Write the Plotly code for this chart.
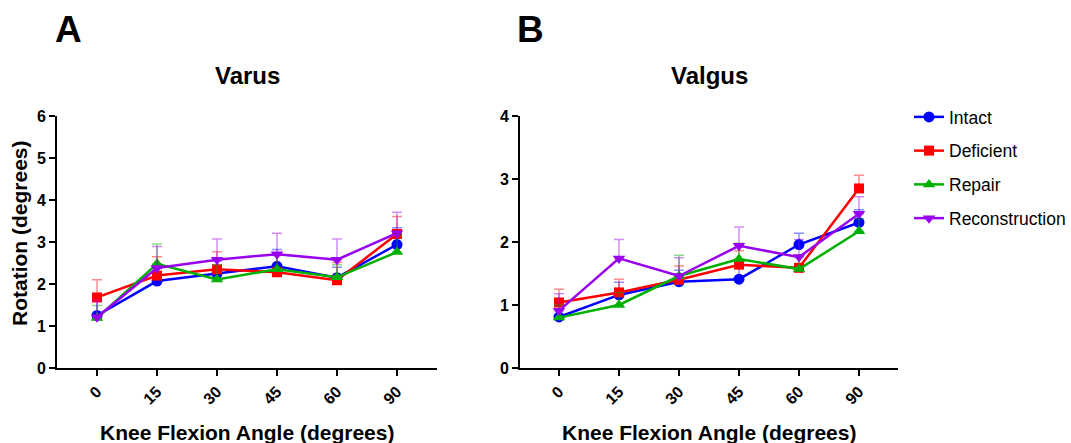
import plotly.graph_objects as go

angles = ["0", "15", "30", "45", "60", "90"]
groups = ["Intact", "Deficient", "Repair", "Reconstruction"]
colors = ["#0000FF", "#FF0000", "#00B000", "#9900EE"]
err_colors = ["rgba(0,0,255,0.45)", "rgba(255,0,0,0.45)", "rgba(0,176,0,0.45)", "rgba(153,0,238,0.45)"]
symbols = ["circle", "square", "triangle-up", "triangle-down"]

varus_intact = [1.25, 2.07, 2.25, 2.42, 2.15, 2.94]
varus_deficient = [1.68, 2.20, 2.35, 2.28, 2.09, 3.19]
varus_repair = [1.19, 2.48, 2.11, 2.35, 2.16, 2.76]
varus_reconstruction = [1.21, 2.38, 2.58, 2.71, 2.58, 3.21]
varus_intact_err = [0.35, 0.30, 0.30, 0.40, 0.25, 0.40]
varus_deficient_err = [0.42, 0.45, 0.42, 0.40, 0.42, 0.42]
varus_repair_err = [0.30, 0.47, 0.35, 0.35, 0.30, 0.40]
varus_reconstruction_err = [0.40, 0.51, 0.49, 0.50, 0.49, 0.50]

valgus_intact = [0.81, 1.16, 1.37, 1.41, 1.96, 2.31]
valgus_deficient = [1.04, 1.20, 1.40, 1.64, 1.59, 2.85]
valgus_repair = [0.80, 1.00, 1.46, 1.73, 1.57, 2.17]
valgus_reconstruction = [0.91, 1.74, 1.46, 1.94, 1.76, 2.45]
valgus_intact_err = [0.20, 0.20, 0.18, 0.20, 0.18, 0.20]
valgus_deficient_err = [0.21, 0.21, 0.22, 0.22, 0.20, 0.21]
valgus_repair_err = [0.20, 0.20, 0.33, 0.25, 0.20, 0.20]
valgus_reconstruction_err = [0.27, 0.30, 0.29, 0.30, 0.28, 0.27]

varus = [varus_intact, varus_deficient, varus_repair, varus_reconstruction]
varus_err = [varus_intact_err, varus_deficient_err, varus_repair_err, varus_reconstruction_err]
valgus = [valgus_intact, valgus_deficient, valgus_repair, valgus_reconstruction]
valgus_err = [valgus_intact_err, valgus_deficient_err, valgus_repair_err, valgus_reconstruction_err]

FONT = "Liberation Sans, Arial, sans-serif"
W, H = 1071, 443

fig = go.Figure()

for panel, (data, errs) in enumerate([(varus, varus_err), (valgus, valgus_err)]):
    xa = "x" if panel == 0 else "x2"
    ya = "y" if panel == 0 else "y2"
    for i, g in enumerate(groups):
        fig.add_trace(go.Scatter(
            x=angles, y=data[i], name=g, mode="lines+markers",
            xaxis=xa, yaxis=ya,
            line=dict(color=colors[i], width=2.5),
            marker=dict(symbol=symbols[i], size=11 if symbols[i] != "square" else 10, color=colors[i]),
            error_y=dict(type="data", array=errs[i], arrayminus=[0] * len(errs[i]),
                         symmetric=False, color=err_colors[i], thickness=1.5, width=5),
            showlegend=(panel == 0), legendgroup=g,
        ))

def px_x(p):
    return p / W

def px_y(p):
    return 1 - p / H

axis_common = dict(
    showline=True, linecolor="black", linewidth=2, ticks="outside", ticklen=6,
    tickwidth=2, tickcolor="black", showgrid=False, zeroline=False, automargin=False,
    tickfont=dict(family=FONT, size=16, color="black", weight="bold"),
)

fig.update_layout(
    width=W, height=H, margin=dict(l=0, r=0, t=0, b=0, autoexpand=False),
    plot_bgcolor="white", paper_bgcolor="white",
    xaxis=dict(domain=[px_x(57), px_x(437)], anchor="y", type="category",
               range=[-0.667, 5.667], tickangle=-45, **axis_common),
    yaxis=dict(domain=[px_y(368), px_y(116)], anchor="x", range=[0, 6],
               tickvals=[0, 1, 2, 3, 4, 5, 6], **axis_common),
    xaxis2=dict(domain=[px_x(520), px_x(898)], anchor="y2", type="category",
                range=[-0.65, 5.65], tickangle=-45, **axis_common),
    yaxis2=dict(domain=[px_y(368), px_y(116)], anchor="x2", range=[0, 4],
                tickvals=[0, 1, 2, 3, 4], **axis_common),
    legend=dict(x=px_x(909), y=px_y(99), xanchor="left", yanchor="top",
                font=dict(family=FONT, size=17.5, color="black"),
                tracegroupgap=8, bgcolor="rgba(0,0,0,0)"),
    showlegend=True,
)

def ann(text, x, y, size, xanchor="center", yanchor="middle", angle=0):
    fig.add_annotation(text=text, x=px_x(x), y=px_y(y), xref="paper", yref="paper",
                       showarrow=False, xanchor=xanchor, yanchor=yanchor, textangle=angle,
                       font=dict(family=FONT, size=size, color="black", weight="bold"))

ann("A", 68, 29, 37)
ann("B", 530, 29, 37)
ann("Varus", 247, 75, 24)
ann("Valgus", 709, 75, 24)
ann("Knee Flexion Angle (degrees)", 247, 432, 21)
ann("Knee Flexion Angle (degrees)", 709, 432, 21)
ann("Rotation (degrees)", 20, 233, 21, angle=-90)

fig.write_html(
    "out.html",
    config={"displayModeBar": False},
    post_script="document.body.style.margin='0';document.body.style.overflow='hidden';",
)
